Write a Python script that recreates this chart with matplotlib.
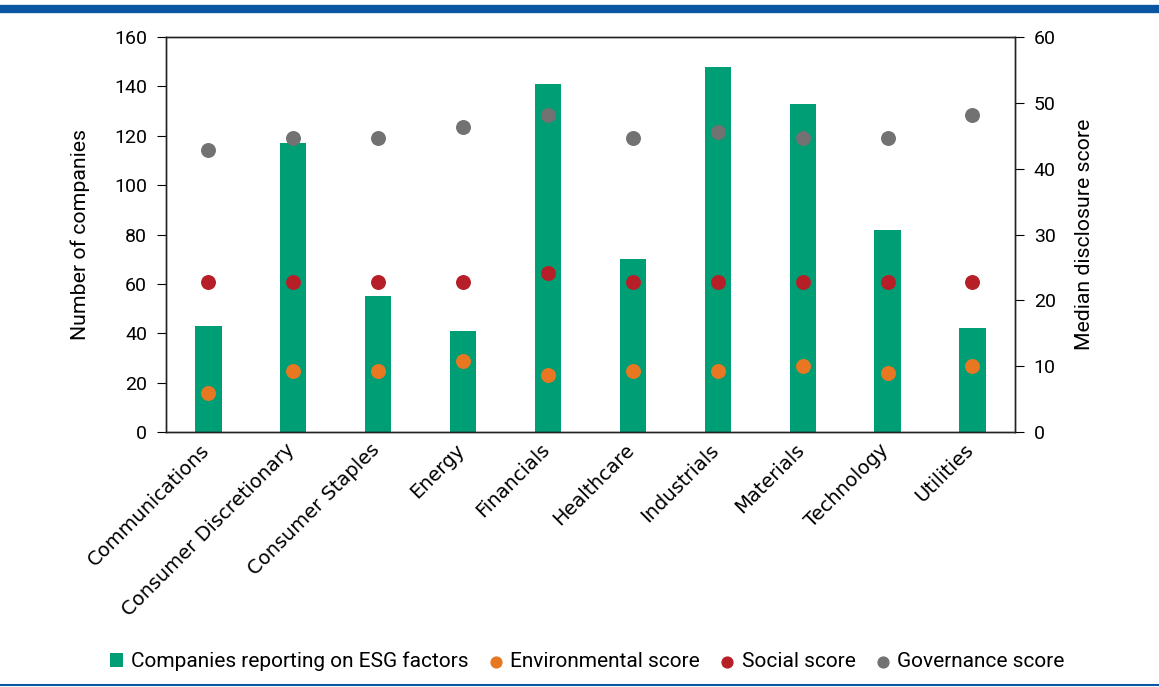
### ESG disclosure by sector: bars (companies) + median scores on twin axis

import numpy as np
import matplotlib.pyplot as plt
import matplotlib.transforms as mtransforms

plt.rcParams['font.family'] = ['Roboto', 'DejaVu Sans']

### Data
sectors = ['Communications', 'Consumer Discretionary', 'Consumer Staples', 'Energy',
           'Financials', 'Healthcare', 'Industrials', 'Materials', 'Technology', 'Utilities']
companies = [43, 117, 55, 41, 141, 70, 148, 133, 82, 42]
environmental = [5.9, 9.3, 9.3, 10.8, 8.6, 9.3, 9.3, 10.1, 8.9, 10.1]
social = [22.8, 22.8, 22.8, 22.8, 24.2, 22.8, 22.8, 22.8, 22.8, 22.8]
governance = [42.8, 44.6, 44.6, 46.4, 48.2, 44.6, 45.5, 44.6, 44.6, 48.2]

green = '#009E74'
orange = '#E87722'
red = '#B71F28'
grey = '#727272'
blue = '#0A56A2'

fig = plt.figure(figsize=(11.59, 6.87), dpi=100)
ax = fig.add_axes([0.1432, 0.3712, 0.7325, 0.5749])
ax2 = ax.twinx()

x = np.arange(len(sectors))
ax.bar(x, companies, width=0.31, color=green, label='Companies reporting on ESG factors', zorder=2)
ax2.scatter(x, environmental, s=95, color=orange, label='Environmental score', zorder=3)
ax2.scatter(x, social, s=95, color=red, label='Social score', zorder=3)
ax2.scatter(x, governance, s=95, color=grey, label='Governance score', zorder=3)

ax.set_xlim(-0.5, len(sectors) - 0.5)
ax.set_ylim(0, 160)
ax.set_yticks(range(0, 161, 20))
ax2.set_ylim(0, 60)
ax2.set_yticks(range(0, 61, 10))

ax.set_xticks(x)
ax.set_xticklabels(sectors, rotation=45, ha='right', rotation_mode='anchor',
                   fontsize=14, family='DejaVu Sans')
ax.tick_params(axis='x', length=0, pad=6)
# nudge the rotated labels left so they end at the bar centre
shift = mtransforms.ScaledTranslation(-6 / 72, 0, fig.dpi_scale_trans)
for lab in ax.get_xticklabels():
    lab.set_transform(lab.get_transform() + shift)

ax.tick_params(axis='y', labelsize=14, length=6.5, direction='out', pad=7)
ax2.tick_params(axis='y', labelsize=14, length=6.5, direction='out', pad=7)

ax.set_ylabel('Number of companies', fontsize=15.3)
ax.yaxis.set_label_coords(-0.0895, 0.5)
ax2.set_ylabel('Median disclosure score', fontsize=15.3)
ax2.yaxis.set_label_coords(1.0707, 0.5)

for a in (ax, ax2):
    for s in a.spines.values():
        s.set_linewidth(1.0)
        s.set_color('#222222')

### Legend at the bottom
h1, l1 = ax.get_legend_handles_labels()
h2, l2 = ax2.get_legend_handles_labels()
fig.legend(h1 + h2, l1 + l2, loc='center', bbox_to_anchor=(0.507, 0.037), ncol=4,
           frameon=False, fontsize=15, handlelength=0.6, handletextpad=0.4,
           columnspacing=1.0, markerscale=0.8)

### Blue rules top and bottom
fig.add_artist(plt.Line2D([0, 1], [0.987, 0.987], color=blue, linewidth=6, transform=fig.transFigure))
fig.add_artist(plt.Line2D([0, 1], [0.003, 0.003], color=blue, linewidth=1.5, transform=fig.transFigure))

plt.savefig('out.png', dpi=100)
